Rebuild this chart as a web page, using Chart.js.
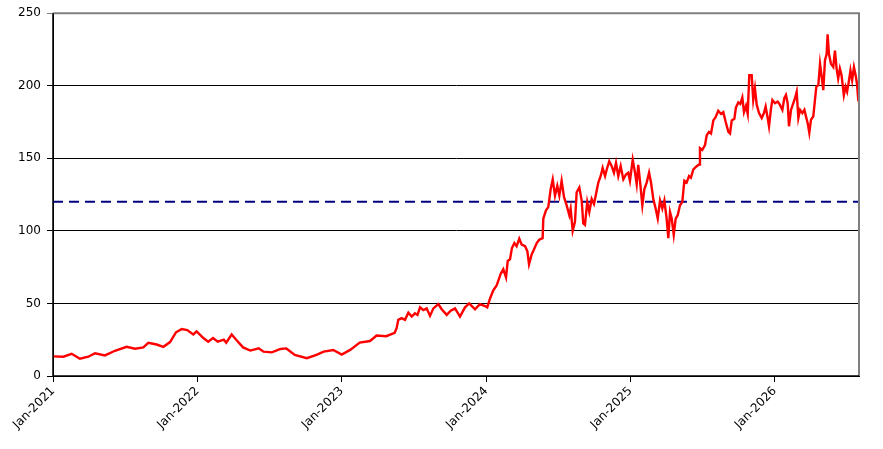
<!DOCTYPE html>
<html>
<head>
<meta charset="utf-8">
<script src="https://cdn.jsdelivr.net/npm/chart.js@4/dist/chart.umd.min.js"></script>
<style>
html,body{margin:0;padding:0;background:#fff;}
#wrap{width:883px;height:449px;}
</style>
</head>
<body>
<div id="wrap"><canvas id="c" width="883" height="449"></canvas></div>
<script>
// months since Jan 2021
const months = [
0,0.86,1.55,2.24,2.94,3.49,4.32,5.15,6.12,6.82,7.51,7.92,8.62,9.17,9.73,10.22,10.7,11.16,11.66,11.94,
12.5,12.9,13.3,13.7,14.2,14.4,14.85,15.3,15.8,16.4,17.1,17.5,18.2,18.9,19.4,20.1,21.1,21.9,22.5,23.3,
24.0,24.7,25.5,26.35,26.9,27.7,28.4,
28.57,28.7,28.98,29.26,29.54,29.82,30.09,30.3,30.51,30.78,31.06,31.34,31.62,32.03,32.31,32.73,33.06,33.42,33.83,34.25,
34.6,35.08,35.49,35.91,36.1,36.33,36.6,36.88,37.02,37.21,37.43,37.66,37.8,37.99,38.15,38.35,38.54,38.76,38.96,39.24,
39.43,39.57,39.79,39.98,40.21,40.42,
40.7,40.76,40.98,41.17,41.37,41.54,41.73,41.92,42.09,42.28,42.48,42.7,42.92,43.03,43.2,43.39,43.53,43.75,43.95,44.08,
44.22,44.41,44.58,44.78,44.97,45.14,45.33,45.53,45.69,45.89,46.03,46.24,46.44,46.63,46.8,46.99,47.19,47.41,47.63,47.82,
47.96,48.19,48.38,48.52,48.65,48.8,
48.99,49.16,49.35,49.55,49.71,49.9,50.1,50.27,50.46,50.65,50.82,51.01,51.15,51.29,51.43,51.6,51.76,51.93,52.12,52.31,
52.48,52.67,52.87,53.03,53.23,53.51,53.7,53.78,53.97,54.2,54.34,54.53,54.7,54.89,55.08,55.3,55.53,55.72,55.92,56.14,
56.28,56.42,56.64,56.77,56.97,57.13,57.3,57.44,57.61,57.75,
57.88,58.08,58.21,58.35,58.5,58.69,58.91,59.1,59.24,59.41,59.52,59.69,59.8,60.02,60.24,60.43,60.63,60.79,60.93,61.07,
61.18,61.35,61.54,61.68,61.82,61.96,62.1,62.29,62.46,62.59,62.73,62.87,63.01,63.2,63.34,63.45,63.62,63.76,63.9,64.03,
64.17,64.31,64.39,64.5,64.67,64.86,65.0,65.14,65.27,65.41,65.55,65.74,65.88,66.01,66.15,66.29,66.43,66.58,66.72,66.83,
66.94,67.0];
const prices = [
13.5,13.3,15.3,11.9,13.3,15.7,14.2,17.4,20.1,18.8,19.7,22.8,21.7,20.1,23.4,30.1,32.3,31.6,28.6,30.8,
26.2,23.6,26.2,23.6,25.0,22.9,28.6,24.3,19.7,17.5,19.1,16.8,16.3,18.6,19.0,14.5,12.3,14.5,16.8,17.9,
14.7,18.0,23.0,24.1,27.9,27.4,29.7,
33.1,38.7,39.9,38.7,43.6,41.0,43.2,42.1,47.3,45.5,46.6,41.4,46.6,49.5,46.0,42.1,45.0,46.6,41.0,47.3,
50.0,46.0,49.5,48.2,47.3,53.4,59.0,62.4,65.7,70.3,73.6,68.0,79.3,80.4,88.2,91.6,89.4,94.6,90.5,89.4,
86.0,77.0,83.8,87.2,91.6,93.9,
95.0,108.5,114.2,116.4,128.8,135.5,124.3,131.1,124.3,134.5,123.2,117.6,110.8,115.3,100.0,106.3,126.6,129.9,120.9,105.1,
104.1,119.8,113.0,122.0,118.6,125.4,133.3,137.8,143.4,137.8,142.3,148.0,144.6,140.1,146.8,137.8,144.6,135.5,138.9,140.1,
134.5,149.1,140.1,132.2,145.5,134.0,
117.6,128.8,133.3,140.1,133.3,122.0,115.3,108.5,120.9,115.3,120.9,108.5,95.0,113.0,108.5,97.3,108.5,110.8,117.6,119.8,
134.5,133.3,137.8,136.7,142.3,144.6,145.7,157.0,155.8,159.2,165.9,168.2,167.1,176.1,178.4,182.8,180.6,181.8,175.0,168.2,
167.1,176.1,177.2,185.1,188.5,187.4,191.9,181.8,186.2,180.6,
207.2,207.2,190.2,198.2,186.8,181.2,177.8,181.2,185.7,177.8,172.1,184.6,190.2,188.0,189.1,186.8,183.4,191.4,193.6,188.0,
172.1,183.4,188.0,191.4,195.9,177.8,183.4,181.2,183.4,178.9,174.4,167.6,176.6,178.9,190.2,199.3,200.4,215.1,206.1,197.0,
217.4,221.9,235.5,221.9,215.1,212.9,224.2,211.8,205.0,211.8,207.2,193.6,199.3,195.9,202.7,210.6,203.8,212.9,207.2,201.6,
190.2,189.0];
const refLevel = 120;
const xTickMonths = [0,12,24,36,48,60];
const xTickLabels = ['Jan-2021','Jan-2022','Jan-2023','Jan-2024','Jan-2025','Jan-2026'];
const yTicks = [0,50,100,150,200,250];

const priceData = months.map((m,i)=>({x:m,y:prices[i]}));
const refData = [{x:0,y:refLevel},{x:67,y:refLevel}];

const frame = {
  id:'frame',
  afterDatasetsDraw(chart){
    const {ctx, chartArea:a} = chart;
    ctx.save();
    ctx.strokeStyle = '#808080';
    ctx.lineWidth = 2;
    ctx.beginPath();
    ctx.moveTo(a.left, a.top);
    ctx.lineTo(a.right, a.top);
    ctx.lineTo(a.right, a.bottom);
    ctx.stroke();
    ctx.strokeStyle = '#000';
    ctx.lineWidth = 1.5;
    ctx.beginPath();
    ctx.moveTo(a.left, a.top);
    ctx.lineTo(a.left, a.bottom);
    ctx.lineTo(a.right, a.bottom);
    ctx.stroke();
    ctx.restore();
  }
};

Chart.defaults.font.family = 'DejaVu Sans';
Chart.defaults.font.size = 12;
Chart.defaults.color = '#000';

new Chart(document.getElementById('c'), {
  type:'line',
  data:{
    datasets:[
      {data:refData, borderColor:'#000080', borderWidth:2, borderDash:[10,6], pointRadius:0, fill:false, order:2},
      {data:priceData, borderColor:'#ff0000', borderWidth:2.4, pointRadius:0, fill:false, tension:0, order:1}
    ]
  },
  options:{
    responsive:false,
    animation:false,
    layout:{padding:{top:8,right:24,left:0,bottom:0}},
    plugins:{legend:{display:false},tooltip:{enabled:false}},
    scales:{
      x:{
        type:'linear', min:0, max:67,
        afterBuildTicks(s){ s.ticks = xTickMonths.map(v=>({value:v})); },
        afterFit(s){ s.height = 73; },
        grid:{drawOnChartArea:false, drawTicks:true, tickLength:6, color:'#000'},
        border:{display:true, color:'#000'},
        ticks:{
          minRotation:45, maxRotation:45, padding:2, autoSkip:false,
          callback(v){ const i = xTickMonths.indexOf(v); return i>=0 ? xTickLabels[i] : ''; }
        }
      },
      y:{
        min:0, max:250,
        afterBuildTicks(s){ s.ticks = yTicks.map(v=>({value:v})); },
        afterFit(s){ s.width = 53; },
        grid:{
          color(c){ return c.tick && c.tick.value===250 ? '#808080' : '#000'; },
          lineWidth:1, tickLength:6, drawTicks:true
        },
        border:{display:true, color:'#000'},
        ticks:{padding:6}
      }
    }
  },
  plugins:[frame]
});
</script>
</body>
</html>
